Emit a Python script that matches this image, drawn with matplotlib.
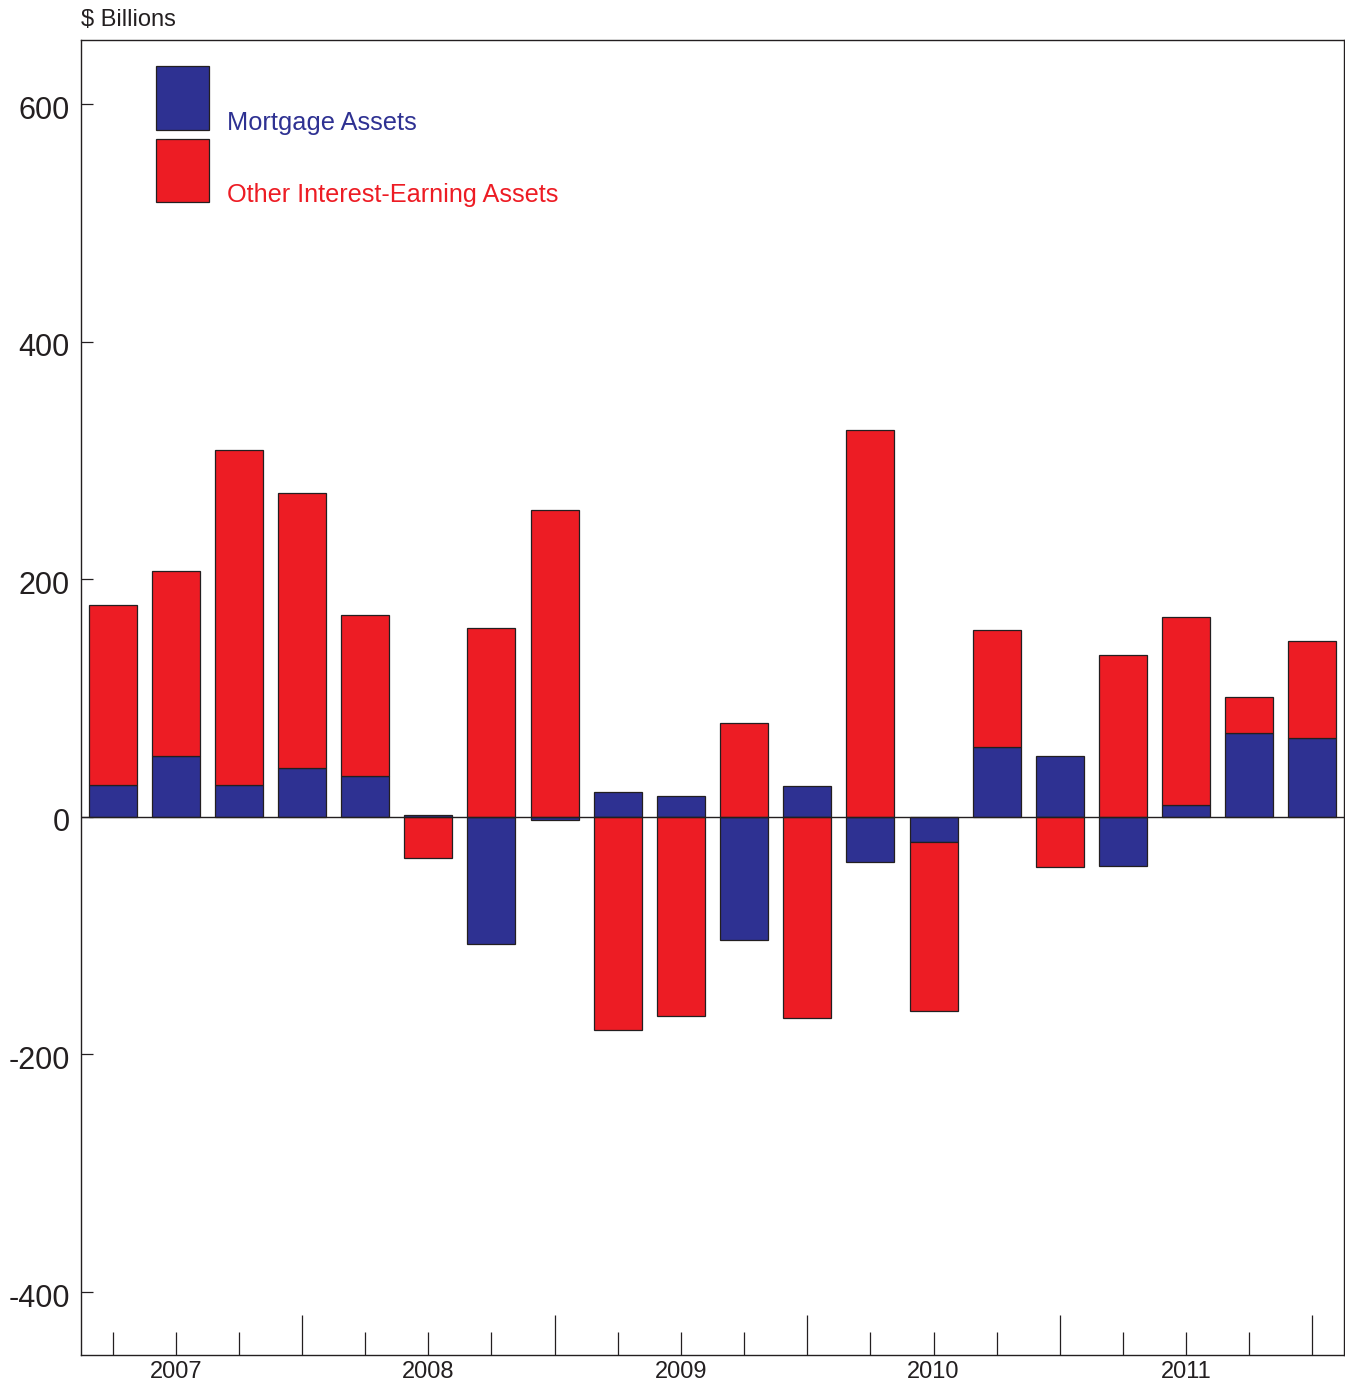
import matplotlib
matplotlib.use("Agg")
import matplotlib.pyplot as plt
import matplotlib.transforms as mtransforms
from matplotlib.patches import Rectangle
import numpy as np

plt.rcParams['font.family'] = ['Liberation Sans', 'DejaVu Sans']

quarters = ["2007Q1", "2007Q2", "2007Q3", "2007Q4",
            "2008Q1", "2008Q2", "2008Q3", "2008Q4",
            "2009Q1", "2009Q2", "2009Q3", "2009Q4",
            "2010Q1", "2010Q2", "2010Q3", "2010Q4",
            "2011Q1", "2011Q2", "2011Q3", "2011Q4"]
mortgage = [27, 51, 27, 41, 34, 2, -107, -3, 21, 18, -104, 26,
            -38, -21, 59, 51, -41, 10, 71, 66]
other = [151, 156, 282, 232, 136, -35, 159, 258, -179, -168, 79, -169,
         326, -142, 98, -42, 136, 158, 30, 82]
year_labels = ["2007", "2008", "2009", "2010", "2011"]
yticks = [-400, -200, 0, 200, 400, 600]

BLUE = "#2E3192"
RED = "#ED1C24"
EDGE = "#231F20"

fig = plt.figure(figsize=(13.45, 13.87), dpi=100)
ax = fig.add_axes([81/1345, 1 - 1355/1387, (1344-81)/1345, (1355-40)/1387])

x = np.arange(len(quarters))
m = np.array(mortgage, dtype=float)
o = np.array(other, dtype=float)
# stack: positive on positive, negative on negative
o_bottom = np.where(o >= 0, np.maximum(m, 0), np.minimum(m, 0))
w = 0.76
ax.bar(x, m, width=w, color=BLUE, edgecolor=EDGE, linewidth=0.9, zorder=2)
ax.bar(x, o, bottom=o_bottom, width=w, color=RED, edgecolor=EDGE, linewidth=0.9, zorder=2)
ax.axhline(0, color=EDGE, linewidth=1.0, zorder=3)

ax.set_xlim(-0.5, len(quarters) - 0.5)
ax.set_ylim(-453, 654)

ax.set_yticks(yticks)
ax.set_yticklabels([str(v) for v in yticks], fontsize=22, color="#231F20")
ax.tick_params(axis='y', direction='in', length=8.6, width=0.9, pad=8, color=EDGE)
offset = mtransforms.ScaledTranslation(0, -3/100, fig.dpi_scale_trans)
for lbl in ax.get_yticklabels():
    lbl.set_transform(lbl.get_transform() + offset)

# x ticks: short at each quarter, long at Q4
ax.set_xticks([i for i in x if i % 4 != 3])
ax.set_xticklabels([])
ax.tick_params(axis='x', which='major', direction='in', length=16.6, width=0.9, color=EDGE)
ax.set_xticks([i for i in x if i % 4 == 3], minor=True)
ax.tick_params(axis='x', which='minor', direction='in', length=28.5, width=0.9, color=EDGE)

def fx(px):
    return px / 1345
def fy(py):
    return 1 - py / 1387

for k, yl in enumerate(year_labels):
    ax.text(4 * k + 1, fy(1372), yl,
            transform=mtransforms.blended_transform_factory(ax.transData, fig.transFigure),
            ha='center', va='center', fontsize=17, color="#231F20")

for s in ax.spines.values():
    s.set_color(EDGE)
    s.set_linewidth(1)

fig.text(fx(81), fy(20), "$ Billions", ha='left', va='center', fontsize=17, color="#231F20")

# legend
fig.patches.append(Rectangle((fx(156), fy(130)), fx(209) - fx(156), fy(66) - fy(130),
                             transform=fig.transFigure, facecolor=BLUE, edgecolor=EDGE, linewidth=0.9))
fig.patches.append(Rectangle((fx(156), fy(202)), fx(209) - fx(156), fy(139) - fy(202),
                             transform=fig.transFigure, facecolor=RED, edgecolor=EDGE, linewidth=0.9))
fig.text(fx(227), fy(130), "Mortgage Assets", ha='left', va='baseline', fontsize=18.3, color=BLUE)
fig.text(fx(227), fy(202), "Other Interest-Earning Assets", ha='left', va='baseline', fontsize=18.2, color=RED)

fig.savefig("out.png", dpi=100)
